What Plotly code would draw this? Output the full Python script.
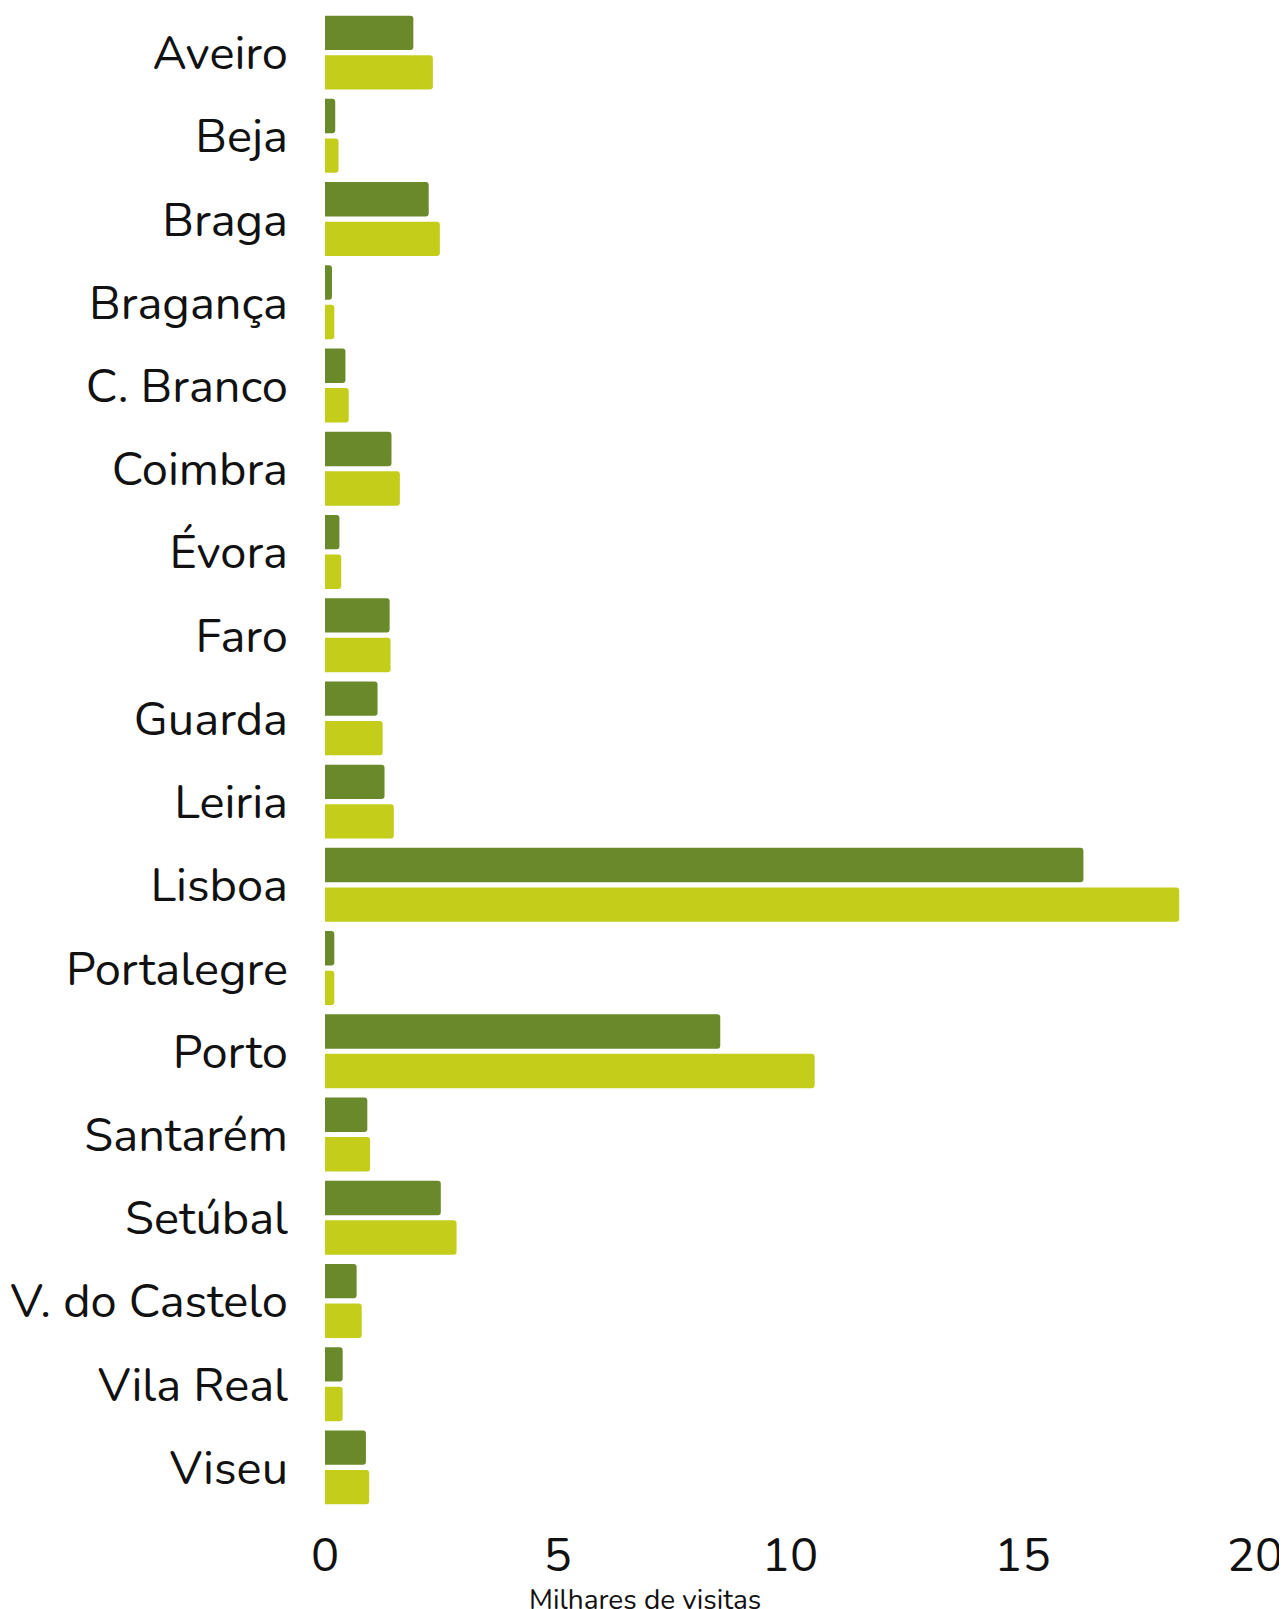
import plotly.graph_objects as go

# Distritos e milhares de visitas (duas séries)
distritos = ['Aveiro', 'Beja', 'Braga', 'Bragança', 'C. Branco', 'Coimbra', 'Évora',
             'Faro', 'Guarda', 'Leiria', 'Lisboa', 'Portalegre', 'Porto', 'Santarém',
             'Setúbal', 'V. do Castelo', 'Vila Real', 'Viseu']
serie_a = [1.90, 0.22, 2.23, 0.15, 0.44, 1.43, 0.31, 1.39, 1.13, 1.28, 16.31, 0.20,
           8.50, 0.91, 2.49, 0.68, 0.38, 0.88]
serie_b = [2.32, 0.29, 2.47, 0.20, 0.51, 1.61, 0.35, 1.41, 1.24, 1.48, 18.37, 0.20,
           10.53, 0.97, 2.83, 0.79, 0.38, 0.95]
ticks_x = [0, 5, 10, 15, 20]

fig = go.Figure()

fig.add_trace(go.Bar(
    y=distritos, x=serie_a, orientation='h', name='A',
    marker=dict(color='#6a892b', cornerradius=3, line=dict(width=0)),
))
fig.add_trace(go.Bar(
    y=distritos, x=serie_b, orientation='h', name='B',
    marker=dict(color='#c4ce1a', cornerradius=3, line=dict(width=0)),
))

fig.add_annotation(
    text='Milhares de visitas', xref='paper', yref='paper',
    x=0.344, y=-0.061, xanchor='center', yanchor='middle',
    showarrow=False, font=dict(size=28, color='#111'),
)

fig.update_layout(
    width=1287, height=1609,
    margin=dict(l=317, r=40, t=3, b=108),
    paper_bgcolor='white', plot_bgcolor='white',
    font=dict(family='Nunito, Lato, sans-serif', color='#111'),
    barmode='group', bargap=0.05, bargroupgap=0.13,
    showlegend=False,
    xaxis=dict(range=[0, 20], tickvals=ticks_x, showgrid=False, zeroline=False,
               showline=False, tickfont=dict(size=47), ticks='',
               ticklabelstandoff=14, automargin=False),
    yaxis=dict(autorange='reversed', showgrid=False, zeroline=False,
               showline=False, tickfont=dict(size=47), ticks='',
               ticklabelstandoff=36, automargin=False),
)

fig.write_html("out.html")
